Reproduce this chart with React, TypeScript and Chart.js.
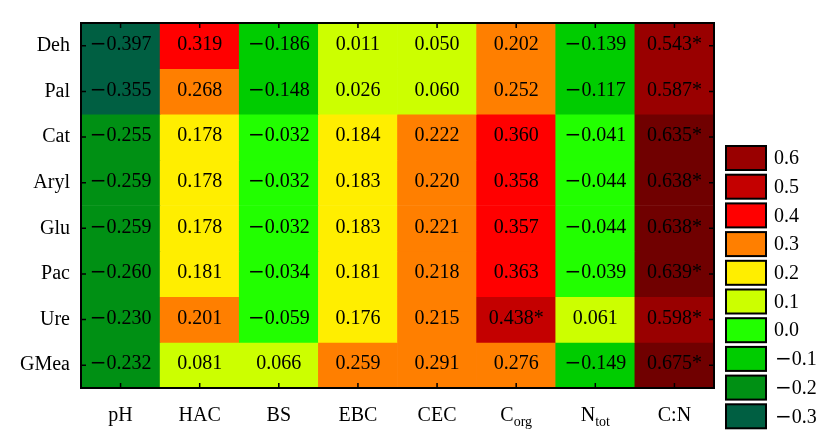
import React, { useEffect, useRef } from "react";
import { Chart, registerables } from "chart.js";

Chart.register(...registerables);

// Columns (soil properties) and their rendered label parts
const columns = ["pH", "HAC", "BS", "EBC", "CEC", "Corg", "Ntot", "C:N"];
const columnMain = ["pH", "HAC", "BS", "EBC", "CEC", "C", "N", "C:N"];
const columnSub = ["", "", "", "", "", "org", "tot", ""];

// Rows (enzymes), top to bottom
const rows = ["Deh", "Pal", "Cat", "Aryl", "Glu", "Pac", "Ure", "GMea"];

// Correlation coefficients per row, in column order
const deh = [-0.397, 0.319, -0.186, 0.011, 0.05, 0.202, -0.139, 0.543];
const pal = [-0.355, 0.268, -0.148, 0.026, 0.06, 0.252, -0.117, 0.587];
const cat = [-0.255, 0.178, -0.032, 0.184, 0.222, 0.36, -0.041, 0.635];
const aryl = [-0.259, 0.178, -0.032, 0.183, 0.22, 0.358, -0.044, 0.638];
const glu = [-0.259, 0.178, -0.032, 0.183, 0.221, 0.357, -0.044, 0.638];
const pac = [-0.26, 0.181, -0.034, 0.181, 0.218, 0.363, -0.039, 0.639];
const ure = [-0.23, 0.201, -0.059, 0.176, 0.215, 0.438, 0.061, 0.598];
const gmea = [-0.232, 0.081, 0.066, 0.259, 0.291, 0.276, -0.149, 0.675];
const rowValues = [deh, pal, cat, aryl, glu, pac, ure, gmea];

// Values above this are marked significant (*)
const significanceThreshold = 0.4;

// Colour bins: upper bound of each bin and its colour
const binLevels = [-0.3, -0.2, -0.1, 0.0, 0.1, 0.2, 0.3, 0.4, 0.5, 0.6, 0.7];
const binColors = [
  "#005f42",
  "#009014",
  "#00cc00",
  "#22ff00",
  "#ccff00",
  "#ffee00",
  "#ff7f00",
  "#ff0000",
  "#c40000",
  "#990000",
  "#700000",
];

// Legend entries (top to bottom)
const legendLevels = [0.6, 0.5, 0.4, 0.3, 0.2, 0.1, 0.0, -0.1, -0.2, -0.3];

const FONT = "'Liberation Serif', 'Times New Roman', serif";
const MINUS_FONT = "'DejaVu Serif', serif";
const FS = 20;

function colorFor(v: number): string {
  const k = Math.ceil(v * 10 - 1e-9) / 10;
  let idx = binLevels.findIndex((l) => Math.abs(l - k) < 1e-6);
  if (idx < 0) idx = k < binLevels[0] ? 0 : binLevels.length - 1;
  return binColors[idx];
}

function fmt(v: number, digits: number): string {
  const s = Math.abs(v).toFixed(digits);
  return (v < 0 ? "\u2212" : "") + s;
}

// Draw text whose leading minus uses a wider glyph; align 'center' or 'left'
function drawNum(ctx: any, text: string, x: number, y: number, align: "center" | "left") {
  const neg = text.startsWith("\u2212");
  const rest = neg ? text.slice(1) : text;
  ctx.font = `${FS}px ${MINUS_FONT}`;
  const wMinus = neg ? ctx.measureText("\u2212").width : 0;
  ctx.font = `${FS}px ${FONT}`;
  const wRest = ctx.measureText(rest).width;
  const total = wMinus + wRest;
  const start = align === "center" ? x - total / 2 : x;
  ctx.textAlign = "left";
  if (neg) {
    ctx.font = `${FS}px ${MINUS_FONT}`;
    ctx.fillText("\u2212", start, y);
  }
  ctx.font = `${FS}px ${FONT}`;
  ctx.fillText(rest, start + wMinus, y);
}

const overlayPlugin = {
  id: "heatOverlay",
  afterDatasetsDraw(chart: any) {
    const ctx = chart.ctx;
    const area = chart.chartArea;
    const xs = chart.scales.x;
    const ys = chart.scales.y;
    ctx.save();
    // cell texts
    ctx.fillStyle = "#000";
    ctx.textBaseline = "middle";
    chart.data.datasets.forEach((ds: any, di: number) => {
      const meta = chart.getDatasetMeta(di);
      meta.data.forEach((el: any, i: number) => {
        const v = ds.data[i].v;
        const p = el.getCenterPoint();
        const txt = fmt(v, 3) + (v > significanceThreshold ? "*" : "");
        drawNum(ctx, txt, p.x, p.y - 1, "center");
      });
    });
    // frame
    ctx.strokeStyle = "#000";
    ctx.lineWidth = 2;
    ctx.strokeRect(area.left, area.top, area.right - area.left, area.bottom - area.top);
    // inward ticks
    ctx.lineWidth = 1.5;
    const tl = 5;
    ctx.beginPath();
    columns.forEach((c, i) => {
      const x = xs.getPixelForValue(i);
      ctx.moveTo(x, area.top);
      ctx.lineTo(x, area.top + tl);
      ctx.moveTo(x, area.bottom);
      ctx.lineTo(x, area.bottom - tl);
    });
    rows.forEach((r, i) => {
      const y = ys.getPixelForValue(rows.length - 1 - i + 0.5);
      ctx.moveTo(area.left, y);
      ctx.lineTo(area.left + tl, y);
      ctx.moveTo(area.right, y);
      ctx.lineTo(area.right - tl, y);
    });
    ctx.stroke();
    ctx.restore();
  },
  afterDraw(chart: any) {
    const ctx = chart.ctx;
    const area = chart.chartArea;
    const xs = chart.scales.x;
    ctx.save();
    ctx.fillStyle = "#000";
    ctx.textBaseline = "alphabetic";
    // x-axis labels with subscripts
    const baseY = area.bottom + 33;
    columns.forEach((c, i) => {
      const x = xs.getPixelForValue(i);
      const main = columnMain[i];
      const sub = columnSub[i];
      ctx.font = `${FS}px ${FONT}`;
      const wm = ctx.measureText(main).width;
      ctx.font = `14px ${FONT}`;
      const ws = sub ? ctx.measureText(sub).width : 0;
      const start = x - (wm + ws) / 2;
      ctx.textAlign = "left";
      ctx.font = `${FS}px ${FONT}`;
      ctx.fillText(main, start, baseY);
      if (sub) {
        ctx.font = `14px ${FONT}`;
        ctx.fillText(sub, start + wm, baseY + 5);
      }
    });
    // legend
    const lx = 726;
    const ly0 = 146;
    const pitch = 28.7;
    const bw = 40;
    const bh = 24;
    legendLevels.forEach((lv, i) => {
      const y = ly0 + i * pitch;
      ctx.fillStyle = colorFor(lv);
      ctx.fillRect(lx, y, bw, bh);
      ctx.strokeStyle = "#000";
      ctx.lineWidth = 2;
      ctx.strokeRect(lx, y, bw, bh);
      ctx.fillStyle = "#000";
      ctx.textBaseline = "middle";
      drawNum(ctx, fmt(lv, 1), lx + (lv < 0 ? 49 : 48), y + bh / 2 + 1, "left");
    });
    ctx.restore();
  },
};

export default function App() {
  const ref = useRef<HTMLCanvasElement | null>(null);
  useEffect(() => {
    if (!ref.current) return;
    const n = rows.length;
    const datasets = rows.map((r, ri) => ({
      label: r,
      data: columns.map((c, ci) => ({
        x: c,
        y: [n - 1 - ri, n - ri],
        v: rowValues[ri][ci],
      })),
      backgroundColor: (ctx: any) => colorFor(ctx.raw ? ctx.raw.v : 0),
      borderWidth: 0,
      barPercentage: 1,
      categoryPercentage: 1,
      grouped: false,
    }));
    const chart = new Chart(ref.current, {
      type: "bar",
      data: { labels: columns, datasets: datasets as any },
      options: {
        responsive: false,
        animation: false,
        devicePixelRatio: 1,
        layout: { padding: { left: 0, top: 10, right: 110, bottom: 44 } },
        plugins: { legend: { display: false }, tooltip: { enabled: false } },
        scales: {
          x: {
            type: "category",
            display: false,
            offset: true,
          },
          y: {
            type: "linear",
            min: 0,
            max: n,
            grid: { display: false, drawTicks: false },
            border: { display: false },
            afterBuildTicks: (scale: any) => {
              scale.ticks = rows.map((_, i) => ({ value: i + 0.5 }));
            },
            afterFit: (scale: any) => {
              scale.width = 81;
            },
            ticks: {
              autoSkip: false,
              padding: 11,
              color: "#000",
              font: { family: FONT, size: FS },
              callback: (value: any) => rows[n - 1 - Math.floor(Number(value))],
            },
          },
        },
      },
      plugins: [overlayPlugin],
    });
    return () => chart.destroy();
  }, []);
  return (
    <div style={{ position: "fixed", left: 0, top: 0, width: 824, height: 432, background: "#fff" }}>
      <canvas ref={ref} width={824} height={432} style={{ display: "block" }} />
    </div>
  );
}
